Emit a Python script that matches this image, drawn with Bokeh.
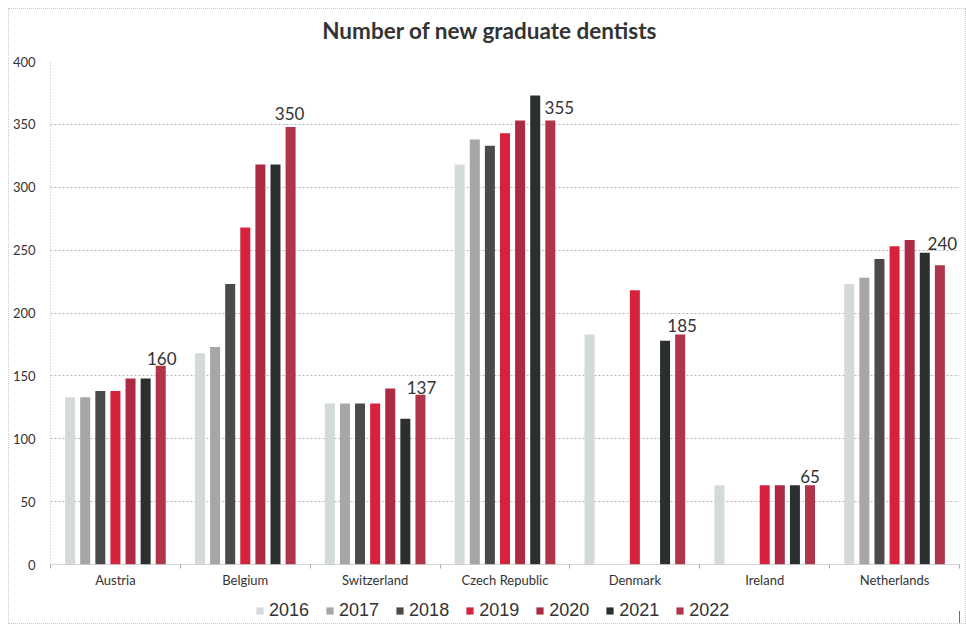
import math
from bokeh.plotting import figure
from bokeh.layouts import column
from bokeh.models import (ColumnDataSource, FixedTicker, Legend, LegendItem, Range1d)
from bokeh.core.properties import value
from bokeh.embed import file_html
from bokeh.resources import INLINE

title_text = "Number of new graduate dentists"
countries = ["Austria", "Belgium", "Switzerland", "Czech Republic", "Denmark", "Ireland", "Netherlands"]
years = ["2016", "2017", "2018", "2019", "2020", "2021", "2022"]
nan = float("nan")
v2016 = [133, 168, 128, 318, 183, 63, 223]
v2017 = [133, 173, 128, 338, nan, nan, 228]
v2018 = [138, 223, 128, 333, nan, nan, 243]
v2019 = [138, 268, 128, 343, 218, 63, 253]
v2020 = [148, 318, 140, 353, nan, 63, 258]
v2021 = [148, 318, 116, 373, 178, 63, 248]
v2022 = [158, 348, 135, 353, 183, 63, 238]
label_2022 = ["160", "350", "137", "355", "185", "65", "240"]
yticks = [0, 50, 100, 150, 200, 250, 300, 350, 400]

series = [v2016, v2017, v2018, v2019, v2020, v2021, v2022]
colors = ["#d3dad9", "#a7a5a5", "#4a4a4a", "#d7223d", "#ac2b43", "#2b2f2e", "#b0344a"]
# pixel nudges of the value labels (style only)
label_dx = [1, -1, 1, 9, 2, 0, 2.5]
label_dy = [-1, -6.5, -1, -6.5, -2, -2, -15]

W = 956

# ---- title strip ----
tf = figure(width=W, height=45, output_backend="svg", toolbar_location=None,
            x_range=Range1d(0, 1), y_range=Range1d(0, 1),
            x_axis_location=None, y_axis_location=None,
            min_border_left=0, min_border_right=0, min_border_top=0, min_border_bottom=0)
tf.outline_line_color = None
tf.xgrid.visible = False
tf.ygrid.visible = False
tf.text(x=[0.5], y=[0.533], text=[title_text], text_align="center", text_baseline="middle",
        x_offset=-15, text_font=value("Lato"), text_font_size="22.5px", text_font_style="bold",
        text_color="#333333")

# ---- main chart ----
p = figure(width=W, height=544, output_backend="svg", toolbar_location=None,
           x_range=Range1d(0, 7), y_range=Range1d(0, 400),
           min_border_left=37, min_border_right=6, min_border_top=7, min_border_bottom=34)
p.outline_line_color = None
p.background_fill_color = "white"
p.border_fill_color = "white"

step = 0.1163
bw = 0.077
centers = [i + 0.5 for i in range(len(countries))]
for j, (yr, vals, col) in enumerate(zip(years, series, colors)):
    xs = [c + (j - 3) * step for c in centers]
    src = ColumnDataSource(dict(x=xs, top=vals))
    p.vbar(x="x", top="top", width=bw, bottom=0, source=src, fill_color=col, line_color=None)

lx = [c + 3 * step for c in centers]
lsrc = ColumnDataSource(dict(x=lx, y=v2022, t=label_2022, dx=label_dx, dy=label_dy))
p.text(x="x", y="y", text="t", source=lsrc, text_align="center", text_baseline="bottom",
       x_offset="dx", y_offset="dy", text_font=value("Lato"), text_font_size="17px",
       text_color="#333333")

p.yaxis.ticker = FixedTicker(ticks=yticks)
p.yaxis.major_tick_line_color = None
p.yaxis.minor_tick_line_color = None
p.yaxis.axis_line_color = "#bbbbbb"
p.yaxis.axis_line_dash = "1 2"
p.yaxis.major_label_text_font = "Lato"
p.yaxis.major_label_text_font_size = "13px"
p.yaxis.major_label_text_color = "#333333"
p.yaxis.major_label_standoff = 9

p.xaxis.ticker = FixedTicker(ticks=centers, minor_ticks=list(range(len(countries) + 1)))
p.xaxis.major_label_overrides = {c: n for c, n in zip(centers, countries)}
p.xaxis.major_tick_line_color = None
p.xaxis.major_tick_out = 0
p.xaxis.minor_tick_line_color = "#aaaaaa"
p.xaxis.minor_tick_out = 4
p.xaxis.minor_tick_in = 0
p.xaxis.axis_line_color = "#aaaaaa"
p.xaxis.axis_line_dash = "1 1"
p.xaxis.major_label_text_font = "Lato"
p.xaxis.major_label_text_font_size = "13px"
p.xaxis.major_label_text_color = "#333333"
p.xaxis.major_label_standoff = 3

p.xgrid.grid_line_color = None
p.ygrid.grid_line_color = "#b5b5b5"
p.ygrid.grid_line_dash = "2 2"
p.ygrid.grid_line_width = 1

# ---- legend strip ----
lg = figure(width=W, height=25, output_backend="svg", toolbar_location=None,
            x_range=Range1d(0, 1), y_range=Range1d(0, 1),
            x_axis_location=None, y_axis_location=None,
            min_border_left=0, min_border_right=0, min_border_top=0, min_border_bottom=0)
lg.outline_line_color = None
lg.xgrid.visible = False
lg.ygrid.visible = False
items = []
for yr, col in zip(years, colors):
    r = lg.vbar(x=[5.0], top=[0.5], width=0.1, fill_color=col, line_color=None)
    items.append(LegendItem(label=yr, renderers=[r]))
legend = Legend(items=items, orientation="horizontal", location=(205, 2),
                label_text_font="Liberation Sans", label_text_font_size="18px",
                label_text_color="#333333", glyph_width=9, glyph_height=9,
                spacing=16, label_standoff=5, border_line_color=None,
                background_fill_alpha=0, padding=0, margin=0)
lg.add_layout(legend, "center")

layout = column(tf, p, lg, spacing=0)
layout.styles = {"margin-left": "8px", "margin-top": "8px", "border": "1px dotted #c8c8c8",
                 "background-color": "white"}

open("out.html", "w").write(file_html(layout, INLINE))
